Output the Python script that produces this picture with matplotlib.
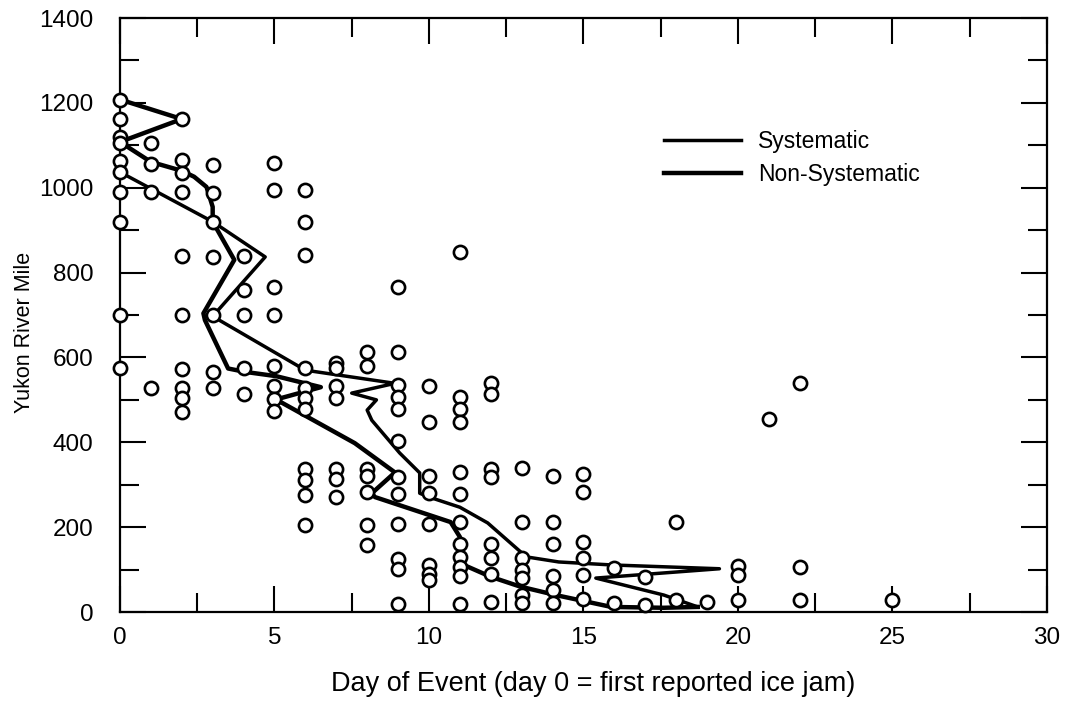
import matplotlib.pyplot as plt
import numpy as np

# observed ice jam records: day of event -> river miles
obs_days = [0, 1, 2, 3, 4, 5, 6, 7, 8, 9, 10, 11, 12, 13, 14, 15, 16, 17, 18, 19, 20, 21, 22, 25]
obs_miles = [
    [1208, 1162, 1120, 1106, 1064, 1038, 991, 920, 701, 576],
    [1106, 1056, 991, 527],
    [1162, 1066, 1035, 991, 840, 699, 574, 529, 504, 471],
    [1054, 988, 920, 838, 699, 565, 527],
    [840, 758, 701, 576, 513],
    [1059, 995, 765, 701, 579, 532, 501, 473],
    [995, 920, 842, 576, 529, 504, 478, 336, 311, 275, 205],
    [588, 576, 532, 504, 336, 313, 271],
    [612, 579, 336, 320, 282, 205, 158],
    [767, 612, 536, 506, 478, 402, 318, 278, 207, 125, 101, 19],
    [532, 447, 320, 280, 207, 110, 90, 75],
    [849, 508, 478, 447, 329, 278, 212, 160, 130, 106, 85, 19],
    [541, 513, 336, 318, 160, 127, 90, 24],
    [339, 212, 127, 100, 80, 40, 21],
    [320, 212, 160, 84, 52, 21],
    [325, 282, 165, 127, 88, 30],
    [104, 21],
    [82, 17],
    [212, 28],
    [24],
    [108, 88, 28],
    [456],
    [539, 106, 28],
    [28],
]

# front progression lines
sys_day = [0, 3, 4.7, 3, 6, 8.9, 7.5, 8.3, 8.0, 8.15, 9.05, 9.7, 9.7, 10, 11, 11.9,
           13.15, 14.2, 15.9, 19.4, 15.4, 17.6, 18.7]
sys_mile = [1037, 920, 837, 697, 570, 539, 516, 500, 476, 452, 375, 328, 280, 271, 247, 210,
            130, 118, 111, 102, 80, 40, 12]

nonsys_day = [0, 2, 0, 1, 2, 2.4, 2.8, 3, 3, 3.7, 2.7, 2.75, 3.5, 4.05, 5.05, 6.5, 5.05,
              7.6, 8.9, 8.15, 8.25, 10.7, 11, 11, 12, 12.95, 14.1, 15.9, 17.6, 18.7]
nonsys_mile = [1208, 1162, 1108, 1061, 1040, 1026, 1002, 955, 920, 830, 704, 688, 574, 566, 556,
               530, 501, 398, 329, 280, 271, 212, 177, 115, 83, 60, 40, 12, 10, 12]

plt.rcParams['font.family'] = ['Liberation Sans', 'DejaVu Sans']

fig = plt.figure(figsize=(10.76, 7.23), dpi=100)
ax = fig.add_axes([0.1115, 0.1535, 0.8615, 0.8215])

ax.plot(sys_day, sys_mile, color='black', lw=2.5, label='Systematic', zorder=2)
ax.plot(nonsys_day, nonsys_mile, color='black', lw=3.2, label='Non-Systematic', zorder=2)

xs = []
ys = []
for d, miles in zip(obs_days, obs_miles):
    for m in miles:
        xs.append(d)
        ys.append(m)
ax.plot(xs, ys, 'o', ms=9.5, mfc='white', mec='black', mew=1.9, ls='none',
        clip_on=False, zorder=3)

ax.set_xlim(0, 30)
ax.set_ylim(0, 1400)
ax.set_xticks(np.arange(0, 31, 5))
ax.set_xticks(np.arange(2.5, 30, 5), minor=True)
ax.set_yticks(np.arange(0, 1401, 200))
ax.set_yticks(np.arange(100, 1400, 200), minor=True)
ax.tick_params(which='both', direction='in', top=True, right=True, width=1.5,
               labelsize=17.5)
ax.tick_params(which='major', length=19)
ax.tick_params(which='minor', length=13.5)
ax.tick_params(axis='x', which='major', pad=11)
ax.tick_params(axis='y', which='major', pad=19)
for s in ax.spines.values():
    s.set_linewidth(1.6)

ax.set_xlabel('Day of Event (day 0 = first reported ice jam)', fontsize=19.5)
ax.xaxis.set_label_coords(0.51, -0.10)
ax.set_ylabel('Yukon River Mile', fontsize=15.5)
ax.yaxis.set_label_coords(-0.092, 0.47)

ax.legend(loc='upper left', bbox_to_anchor=(0.5646, 0.846), frameon=False, fontsize=16.5,
          handlelength=3.36, handletextpad=0.74, labelspacing=0.41)

plt.savefig('out.png', dpi=100)
